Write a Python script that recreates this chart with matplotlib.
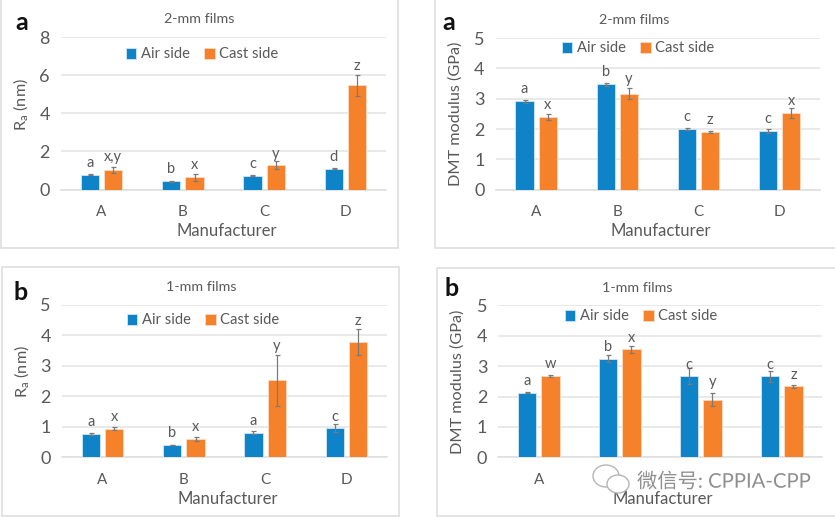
import matplotlib
matplotlib.use("Agg")
import matplotlib.pyplot as plt
from matplotlib.patches import Rectangle, Ellipse
from matplotlib.patheffects import withStroke
import numpy as np

W, H = 835, 517
plt.rcParams['font.family'] = ['Lato', 'Noto Sans CJK SC', 'DejaVu Sans']
plt.rcParams['mathtext.fontset'] = 'custom'
plt.rcParams['mathtext.rm'] = 'Lato'

GREY = '#595959'
BLUE = '#0F83C8'
ORANGE = '#F5822A'

categories = ['A', 'B', 'C', 'D']

# Ra, 2-mm
ra2_air = [0.77, 0.42, 0.72, 1.08]
ra2_air_err = [0.03, 0.03, 0.03, 0.03]
ra2_cast = [1.02, 0.65, 1.28, 5.48]
ra2_cast_err = [0.17, 0.18, 0.22, 0.55]
ra2_air_let = ['a', 'b', 'c', 'd']
ra2_cast_let = ['x,y', 'x', 'y', 'z']
ra2_air_lety = [1.37, 1.05, 1.33, 1.72]
ra2_cast_lety = [1.68, 1.28, 1.86, 6.48]

# DMT, 2-mm
dmt2_air = [2.92, 3.47, 2.00, 1.94]
dmt2_air_err = [0.05, 0.05, 0.02, 0.06]
dmt2_cast = [2.40, 3.17, 1.90, 2.52]
dmt2_cast_err = [0.09, 0.17, 0.02, 0.16]
dmt2_air_let = ['a', 'b', 'c', 'c']
dmt2_cast_let = ['x', 'y', 'z', 'x']
dmt2_air_lety = [3.31, 3.88, 2.38, 2.32]
dmt2_cast_lety = [2.78, 3.66, 2.29, 2.91]

# Ra, 1-mm
ra1_air = [0.76, 0.40, 0.80, 0.95]
ra1_air_err = [0.02, 0.01, 0.05, 0.13]
ra1_cast = [0.93, 0.59, 2.52, 3.78]
ra1_cast_err = [0.05, 0.07, 0.84, 0.43]
ra1_air_let = ['a', 'b', 'a', 'c']
ra1_cast_let = ['x', 'x', 'y', 'z']
ra1_air_lety = [1.15, 0.79, 1.19, 1.33]
ra1_cast_lety = [1.32, 0.98, 3.65, 4.48]

# DMT, 1-mm
dmt1_air = [2.13, 3.24, 2.68, 2.67]
dmt1_air_err = [0.03, 0.12, 0.27, 0.18]
dmt1_cast = [2.68, 3.55, 1.90, 2.33]
dmt1_cast_err = [0.04, 0.12, 0.20, 0.05]
dmt1_air_let = ['a', 'b', 'c', 'c']
dmt1_cast_let = ['w', 'x', 'y', 'z']
dmt1_air_lety = [2.50, 3.62, 3.04, 3.04]
dmt1_cast_lety = [3.06, 3.93, 2.47, 2.70]

fig = plt.figure(figsize=(W / 100, H / 100), dpi=100, facecolor='white')


def fx(px):
    return px / W


def fy(py):
    return 1 - py / H


def panel(box, plot, yticks, ylabel, title, letter, letter_xy, title_xy, legend_xy,
          ylabel_xy, xlabel_xy, air, air_err, cast, cast_err,
          air_let, cast_let, air_lety, cast_lety, ticklabels):
    x0, y0, x1, y1 = box
    fig.add_artist(Rectangle((fx(x0), fy(y1)), fx(x1 - x0), (y1 - y0) / H,
                             transform=fig.transFigure, fill=False,
                             edgecolor='#dedede', lw=1.2))
    l, t, r, b = plot
    ax = fig.add_axes([fx(l), fy(b), fx(r - l), (b - t) / H], facecolor='none')
    pos = np.arange(len(categories))
    w, off = 0.225, 0.144
    err_kw = dict(ecolor='#7a7a7a', elinewidth=0.9, capsize=1.8, capthick=0.9)
    ax.bar(pos - off, air, w, color=BLUE, edgecolor='#cfe6f5', linewidth=0.6,
           yerr=air_err, error_kw=err_kw, label='Air side', zorder=3)
    ax.bar(pos + off, cast, w, color=ORANGE, edgecolor='#fbdcc4', linewidth=0.6,
           yerr=cast_err, error_kw=err_kw, label='Cast side', zorder=3)
    ax.set_xlim(-0.5, len(categories) - 0.5)
    ax.set_ylim(yticks[0], yticks[-1])
    ax.set_yticks(yticks)
    ax.set_xticks(pos)
    ax.set_xticklabels(ticklabels)
    ax.tick_params(axis='x', length=0, pad=11, labelsize=11, colors=GREY)
    ax.tick_params(axis='y', length=0, pad=8, labelsize=13, colors=GREY)
    ax.grid(axis='y', color='#e3e3e3', lw=1.1, zorder=0)
    ax.set_axisbelow(True)
    for s in ['top', 'left', 'right']:
        ax.spines[s].set_visible(False)
    ax.spines['bottom'].set_color('#dcdcdc')
    ax.spines['bottom'].set_linewidth(1.1)
    for i in pos:
        ax.text(i - off, air_lety[i], air_let[i], ha='center', va='center',
                fontsize=10.5, color=GREY, zorder=5)
        ax.text(i + off, cast_lety[i], cast_let[i], ha='center', va='center',
                fontsize=10.5, color=GREY, zorder=5)
    fig.text(fx(letter_xy[0]), fy(letter_xy[1]), letter, fontsize=18, fontweight='bold',
             color='#111111', ha='center', va='center')
    fig.text(fx(title_xy[0]), fy(title_xy[1]), title, fontsize=10.3, color=GREY,
             ha='center', va='center')
    fig.text(fx(ylabel_xy[0]), fy(ylabel_xy[1]), ylabel, fontsize=11.7, color=GREY,
             rotation=90, ha='center', va='center')
    fig.text(fx(xlabel_xy[0]), fy(xlabel_xy[1]), 'Manufacturer', fontsize=12, color=GREY,
             ha='center', va='center', zorder=2)
    ax.legend(loc='center', bbox_to_anchor=(fx(legend_xy[0]), fy(legend_xy[1])),
              bbox_transform=fig.transFigure, ncol=2, frameon=False, fontsize=10.6,
              labelcolor=GREY, handlelength=0.7, handleheight=0.7, handletextpad=0.3,
              columnspacing=1.0, borderpad=0, borderaxespad=0)
    return ax


RA_LABEL = r'R$_{\mathrm{a}}$ (nm)'
DMT_LABEL = 'DMT modulus (GPa)'

panel((0.5, -1, 398, 248), (61, 37, 386, 189.5), [0, 2, 4, 6, 8], RA_LABEL, '2-mm films', 'a',
      (22, 22), (199, 19), (202, 54.5), (21, 105), (227, 230.5),
      ra2_air, ra2_air_err, ra2_cast, ra2_cast_err,
      ra2_air_let, ra2_cast_let, ra2_air_lety, ra2_cast_lety, categories)
panel((435, -1, 836, 248), (495.7, 38, 820, 189.7), [0, 1, 2, 3, 4, 5], DMT_LABEL, '2-mm films', 'a',
      (449, 23), (634, 20), (638, 48.5), (456, 114), (661, 230.5),
      dmt2_air, dmt2_air_err, dmt2_cast, dmt2_cast_err,
      dmt2_air_let, dmt2_cast_let, dmt2_air_lety, dmt2_cast_lety, categories)
panel((1.5, 267, 399, 516), (62, 304.7, 387, 457.3), [0, 1, 2, 3, 4, 5], RA_LABEL, '1-mm films', 'b',
      (21, 293), (201, 287), (203, 320.5), (22, 372), (228, 499.5),
      ra1_air, ra1_air_err, ra1_cast, ra1_cast_err,
      ra1_air_let, ra1_cast_let, ra1_air_lety, ra1_cast_lety, categories)
panel((437, 268, 836, 516), (498.3, 305.3, 822.3, 457.3), [0, 1, 2, 3, 4, 5], DMT_LABEL, '1-mm films', 'b',
      (452, 289), (637, 288), (641, 316.5), (458, 382), (663, 499.5),
      dmt1_air, dmt1_air_err, dmt1_cast, dmt1_cast_err,
      dmt1_air_let, dmt1_cast_let, dmt1_air_lety, dmt1_cast_lety, ['A', '', '', ''])

# watermark
halo = [withStroke(linewidth=2.5, foreground='white')]
fig.text(fx(637), fy(481), '微信号: CPPIA-CPP', fontsize=14.6, color='#8f8f8f',
         ha='left', va='center', path_effects=halo, zorder=10)
for cx, cy, rx, ry in [(606, 476, 13, 11), (618, 484, 11, 9)]:
    fig.add_artist(Ellipse((fx(cx), fy(cy)), 2 * rx / W, 2 * ry / H, transform=fig.transFigure,
                           facecolor='white', edgecolor='#b5b5b5', lw=1.0, zorder=9))

fig.savefig('out.png', dpi=100)
